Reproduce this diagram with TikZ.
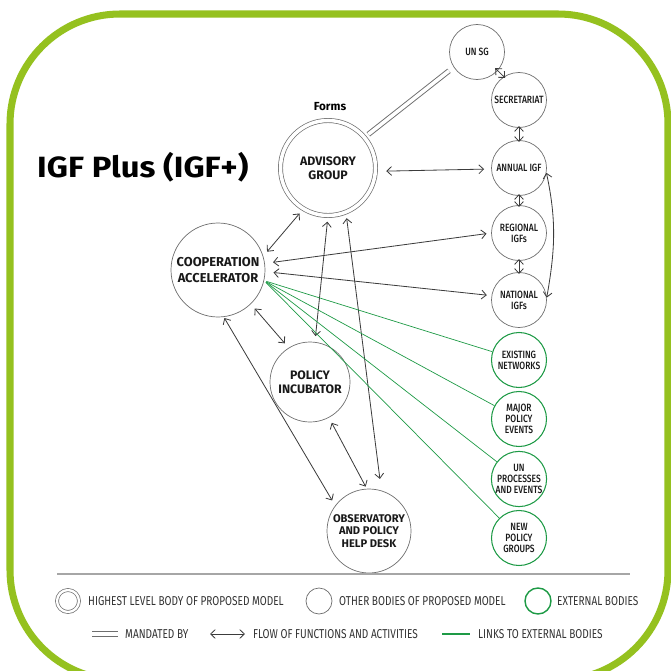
\documentclass[tikz,border=0pt]{standalone}
\usepackage{fontspec}
\setmainfont{Fira Sans}
\newfontfamily\condfont[FakeStretch=0.78]{Fira Sans}
\newfontfamily\condmedium[FakeStretch=0.8]{Fira Sans Medium}
\newfontfamily\titlefont[FakeStretch=1.12]{Fira Sans}
\usepackage{xcolor}
\usetikzlibrary{arrows.meta}
\definecolor{framegreen}{HTML}{95C11F}
\definecolor{linkgreen}{HTML}{1E9A46}
\definecolor{bodygray}{HTML}{6E6E6E}
\definecolor{arrowgray}{HTML}{3C3C3C}

\begin{document}
\begin{tikzpicture}[x=0.03cm,y=-0.03cm]
        \tikzstyle{body}=[draw=bodygray,circle,line width=0.6pt,inner sep=0pt,align=center,text=black!90,font=\bfseries\fontsize{10.5}{11.5}\selectfont]
        \tikzstyle{top body}=[body,double,double distance=3pt,minimum size=2.85cm]
        \tikzstyle{small body}=[body,minimum size=1.65cm,font=\condmedium\fontsize{9}{9.5}\selectfont]
        \tikzstyle{external}=[small body,draw=linkgreen,line width=0.9pt]
        \tikzstyle{flow}=[arrowgray,line width=0.7pt,{Straight Barb[length=4pt,width=7.5pt]}-{Straight Barb[length=4pt,width=7.5pt]},shorten <=5pt,shorten >=5pt]
        \tikzstyle{stack}=[flow,shorten <=-1.5pt,shorten >=-1.5pt]
        \tikzstyle{mandate}=[bodygray,double,double distance=3pt,line width=0.8pt]
        \tikzstyle{link}=[linkgreen,line width=0.6pt]
        \tikzstyle{legend}=[anchor=west,inner sep=0pt,text=black!80,font=\condfont\fontsize{11}{11}\selectfont]

        \useasboundingbox (0,0) rectangle (671,671);
        \draw [framegreen,line width=6pt,rounded corners=3.3cm] (10,14) rectangle (668,680);

        % title
        \node at (37,167) [anchor=west,inner sep=0pt,font=\titlefont\bfseries\fontsize{25}{30}\selectfont] (title) {IGF Plus (IGF+)};
        \node at (330,107) [font=\bfseries\fontsize{10}{12}\selectfont] (forms) {Forms};

        % bodies of the model
        \draw node at (328,168) [top body] (advisory) {ADVISORY\\GROUP};
        \draw node at (218,270) [body,minimum size=2.82cm,font=\bfseries\fontsize{11}{13}\selectfont] (coop) {COOPERATION\\ACCELERATOR};
        \draw node at (310,382) [body,minimum size=2.4cm] (incubator) {POLICY\\INCUBATOR};
        \draw node at (369,531) [body,minimum size=2.52cm,font=\bfseries\fontsize{9.5}{10.5}\selectfont] (observatory) {OBSERVATORY\\AND POLICY\\HELP DESK};

        \draw node at (477,52) [small body] (unsg) {UN SG};
        \draw node at (519,100) [small body] (secretariat) {SECRETARIAT};
        \draw node at (519,168) [small body] (annual) {ANNUAL IGF};
        \draw node at (519,233) [small body] (regional) {REGIONAL\\IGFs};
        \draw node at (519,300) [small body] (national) {NATIONAL\\IGFs};

        % external bodies
        \draw node at (519,360) [external] (existing) {EXISTING\\NETWORKS};
        \draw node at (519,419) [external] (major) {MAJOR\\POLICY\\EVENTS};
        \draw node at (519,479) [external] (unprocesses) {UN\\PROCESSES\\AND EVENTS};
        \draw node at (519,538) [external] (newgroups) {NEW\\POLICY\\GROUPS};

        % connectors
        \draw [mandate,shorten <=4pt,shorten >=5pt] (advisory.40) -- (unsg.213);
        \draw [stack,shorten <=-3pt] (unsg.-42) -- (secretariat.123);
        \draw [stack] (secretariat) -- (annual);
        \draw [stack] (annual) -- (regional);
        \draw [stack] (regional) -- (national);
        \draw [flow,shorten <=0pt,shorten >=0pt] (annual.-10) to [out=-78,in=80] (national.5);
        \draw [flow,shorten <=9pt,shorten >=6pt] (advisory.-4) -- (annual.182);
        \draw [flow] (coop.17) -- (advisory.239);
        \draw [flow,shorten <=7pt,shorten >=4pt] (coop.8) -- (regional.180);
        \draw [flow,shorten <=7pt,shorten >=4pt] (coop.-2) -- (national.171);
        \draw [flow] (coop.-46) -- (incubator.122);
        \draw [flow,shorten <=1pt] (coop.-83) -- (observatory.143);
        \draw [flow] (advisory.-90) -- (incubator.83);
        \draw [flow,shorten >=10pt] (advisory.-68) -- (observatory.73);
        \draw [flow,shorten >=2pt] (incubator.-62) -- (observatory.93);

        \coordinate (hub) at (coop.-13);
        \draw [link,shorten <=2pt] (hub) -- (existing);
        \draw [link,shorten <=2pt] (hub) -- (major);
        \draw [link,shorten <=2pt] (hub) -- (unprocesses);
        \draw [link,shorten <=2pt] (hub) -- (newgroups);

        % legend
        \coordinate (sepL) at (57,574);
        \coordinate (sepR) at (630,574);
        \draw [black!35,line width=1.2pt] (sepL) -- (sepR);

        \draw node at (68,601) [top body,minimum size=0.66cm,double distance=2pt] (keytop) {};
        \node at (88,601) [legend] (keytoptext) {HIGHEST LEVEL BODY OF PROPOSED MODEL};
        \draw node at (319,601) [body,minimum size=0.78cm] (keybody) {};
        \node at (339,601) [legend] (keybodytext) {OTHER BODIES OF PROPOSED MODEL};
        \draw node at (538,601) [external,minimum size=0.78cm,line width=1.2pt] (keyext) {};
        \node at (557,601) [legend] (keyexttext) {EXTERNAL BODIES};

        \coordinate (mandA) at (92,634);
        \coordinate (mandB) at (118,634);
        \draw [mandate] (mandA) -- (mandB);
        \node at (125,634) [legend] (mandtext) {MANDATED BY};
        \coordinate (flowA) at (210,634);
        \coordinate (flowB) at (245,634);
        \draw [flow,shorten <=0pt,shorten >=0pt] (flowA) -- (flowB);
        \node at (253,634) [legend] (flowtext) {FLOW OF FUNCTIONS AND ACTIVITIES};
        \coordinate (linkA) at (442,634);
        \coordinate (linkB) at (470,634);
        \draw [link,line width=0.9pt] (linkA) -- (linkB);
        \node at (478,634) [legend] (linktext) {LINKS TO EXTERNAL BODIES};
    \end{tikzpicture}
\end{document}
